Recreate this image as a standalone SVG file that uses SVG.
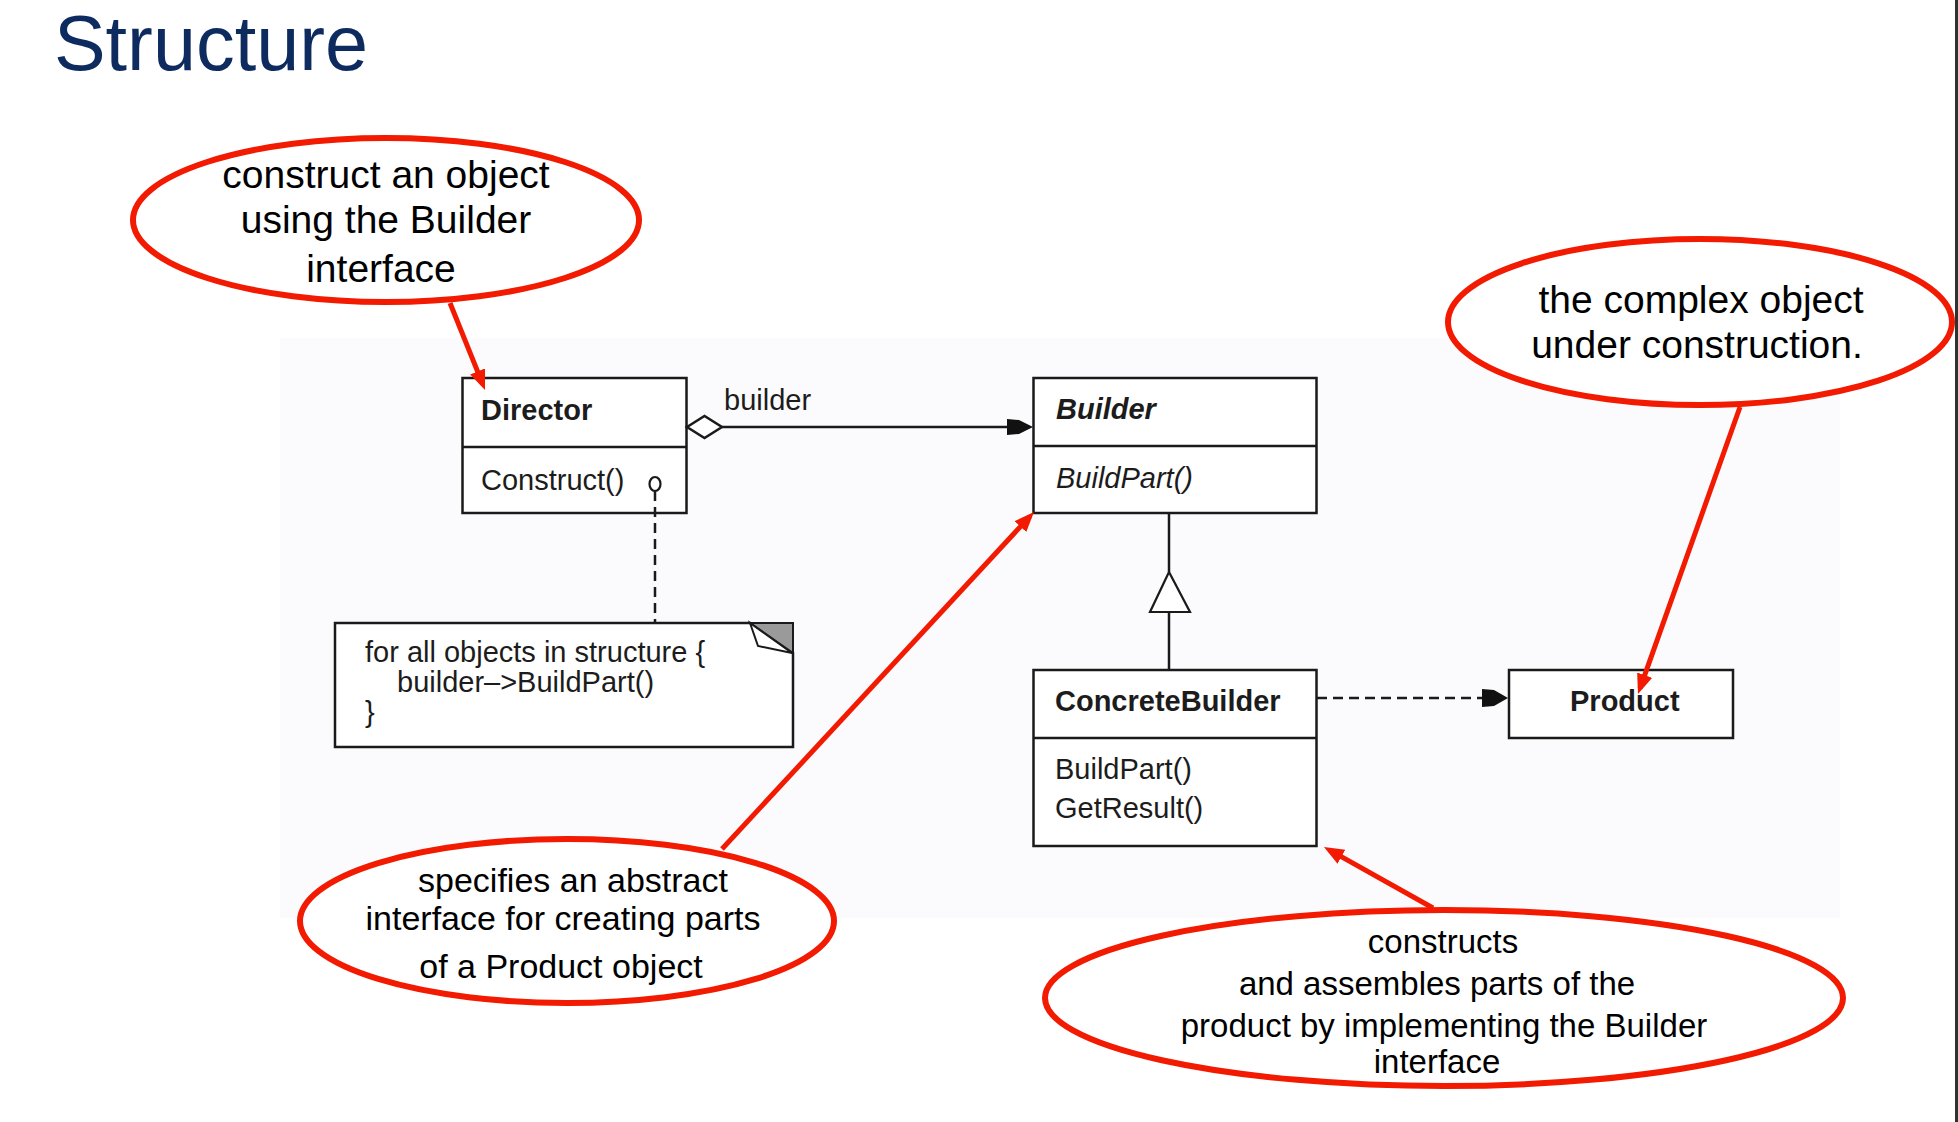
<svg xmlns="http://www.w3.org/2000/svg" width="1958" height="1122" viewBox="0 0 1958 1122">
<defs>
<style>
.uml{font-family:"Liberation Sans",Arial,sans-serif;font-size:29px;fill:#1c1c1c}
.b{font-weight:bold}
.i{font-style:italic}
.box{fill:#ffffff;stroke:#1a1a1a;stroke-width:2.5}
.ln{stroke:#1a1a1a;stroke-width:2.5;fill:none}
.dash{stroke:#1a1a1a;stroke-width:2.5;fill:none;stroke-dasharray:10 6}
.callout{fill:#ffffff;stroke:#f21a00;stroke-width:6}
.ct{font-family:"Liberation Sans",Arial,sans-serif;fill:#000;text-anchor:middle}
.red{stroke:#f21a00;stroke-width:5;fill:none}
</style>
<marker id="redhead" markerUnits="userSpaceOnUse" markerWidth="22" markerHeight="18" refX="14" refY="8" orient="auto" viewBox="0 0 22 18">
<path d="M0,0 L20,8 L0,16 z" fill="#f21a00"/>
</marker>
</defs>
<rect x="0" y="0" width="1958" height="1122" fill="#ffffff"/>
<rect x="280" y="338" width="1560" height="580" fill="#fbfbfd"/>
<rect x="1955" y="0" width="3" height="1122" fill="#2b3333"/>

<text x="54" y="70" font-family="'Liberation Sans',Arial,sans-serif" font-size="78" fill="#0d2b5e" textLength="314" lengthAdjust="spacingAndGlyphs">Structure</text>

<g id="director">
<rect class="box" x="462.5" y="378" width="224" height="135"/>
<line class="ln" x1="462.5" y1="447" x2="686.5" y2="447"/>
<text class="uml b" x="481" y="420">Director</text>
<text class="uml" x="481" y="490">Construct()</text>
</g>

<g id="builder">
<rect class="box" x="1033.5" y="378" width="283" height="135"/>
<line class="ln" x1="1033.5" y1="446" x2="1316.5" y2="446"/>
<text class="uml b i" x="1056" y="419">Builder</text>
<text class="uml i" x="1056" y="488">BuildPart()</text>
</g>

<g id="concretebuilder">
<rect class="box" x="1033.5" y="670" width="283" height="176"/>
<line class="ln" x1="1033.5" y1="738" x2="1316.5" y2="738"/>
<text class="uml b" x="1055" y="711">ConcreteBuilder</text>
<text class="uml" x="1055" y="779">BuildPart()</text>
<text class="uml" x="1055" y="818">GetResult()</text>
</g>

<g id="product">
<rect class="box" x="1509" y="670" width="224" height="68"/>
<text class="uml b" x="1570" y="711">Product</text>
</g>

<g id="note">
<path d="M335,623 H750 L793,653 V747 H335 Z" fill="#ffffff" stroke="#1a1a1a" stroke-width="2.5"/>
<polygon points="750,623 793,623 793,653" fill="#9a9a9a" stroke="#1a1a1a" stroke-width="2"/>
<polygon points="750,623 758,646 792,653" fill="#ffffff" stroke="#1a1a1a" stroke-width="2"/>
<text class="uml" x="365" y="662">for all objects in structure {</text>
<text class="uml" x="397" y="692">builder–&gt;BuildPart()</text>
<text class="uml" x="365" y="722">}</text>
</g>

<g id="connectors">
<line class="ln" x1="722" y1="427" x2="1008" y2="427"/>
<polygon points="687,427 704.5,416 722,427 704.5,438" fill="#ffffff" stroke="#1a1a1a" stroke-width="2.5"/>
<polygon points="1007,419 1019,420 1033,427 1019,434 1007,435" fill="#111"/>
<text class="uml" x="724" y="410">builder</text>
<line class="ln" x1="1169" y1="513" x2="1169" y2="572"/>
<polygon points="1169,572 1150,612 1190,612" fill="#ffffff" stroke="#1a1a1a" stroke-width="2.2"/>
<line class="ln" x1="1169" y1="612" x2="1169" y2="670"/>
<line class="dash" x1="1317" y1="698" x2="1483" y2="698"/>
<polygon points="1482,689 1494,690 1508,698 1494,706 1482,707" fill="#111"/>
<line class="dash" x1="655" y1="491" x2="655" y2="623"/>
<ellipse cx="655" cy="484" rx="5.5" ry="7" fill="#ffffff" stroke="#1a1a1a" stroke-width="2.2"/>
</g>

<g id="callout-director">
<ellipse class="callout" cx="386" cy="220" rx="253" ry="82"/>
<text class="ct" font-size="39" x="386" y="188">construct an object</text>
<text class="ct" font-size="39" x="386" y="233">using the Builder</text>
<text class="ct" font-size="39" x="381" y="282">interface</text>
</g>

<g id="callout-product">
<ellipse class="callout" cx="1700" cy="322" rx="252" ry="83"/>
<text class="ct" font-size="39" x="1701" y="313">the complex object</text>
<text class="ct" font-size="39" x="1697" y="358">under construction.</text>
</g>

<g id="callout-builder">
<ellipse class="callout" cx="567" cy="921" rx="267" ry="82"/>
<text class="ct" font-size="34" x="573" y="892">specifies an abstract</text>
<text class="ct" font-size="34" x="563" y="930">interface for creating parts</text>
<text class="ct" font-size="34" x="561" y="978">of a Product object</text>
</g>

<g id="callout-concrete">
<ellipse class="callout" cx="1444" cy="998" rx="399" ry="88"/>
<text class="ct" font-size="33" x="1443" y="953">constructs</text>
<text class="ct" font-size="33" x="1437" y="995">and assembles parts of the</text>
<text class="ct" font-size="33" x="1444" y="1037">product by implementing the Builder</text>
<text class="ct" font-size="33" x="1437" y="1073">interface</text>
</g>

<g id="callout-arrows">
<line class="red" x1="450" y1="303" x2="482.8" y2="384.4" marker-end="url(#redhead)"/>
<line class="red" x1="1740" y1="407" x2="1640" y2="688.3" marker-end="url(#redhead)"/>
<line class="red" x1="722" y1="849" x2="1029.9" y2="516.4" marker-end="url(#redhead)"/>
<line class="red" x1="1433" y1="908" x2="1329.2" y2="849.9" marker-end="url(#redhead)"/>
</g>
</svg>
